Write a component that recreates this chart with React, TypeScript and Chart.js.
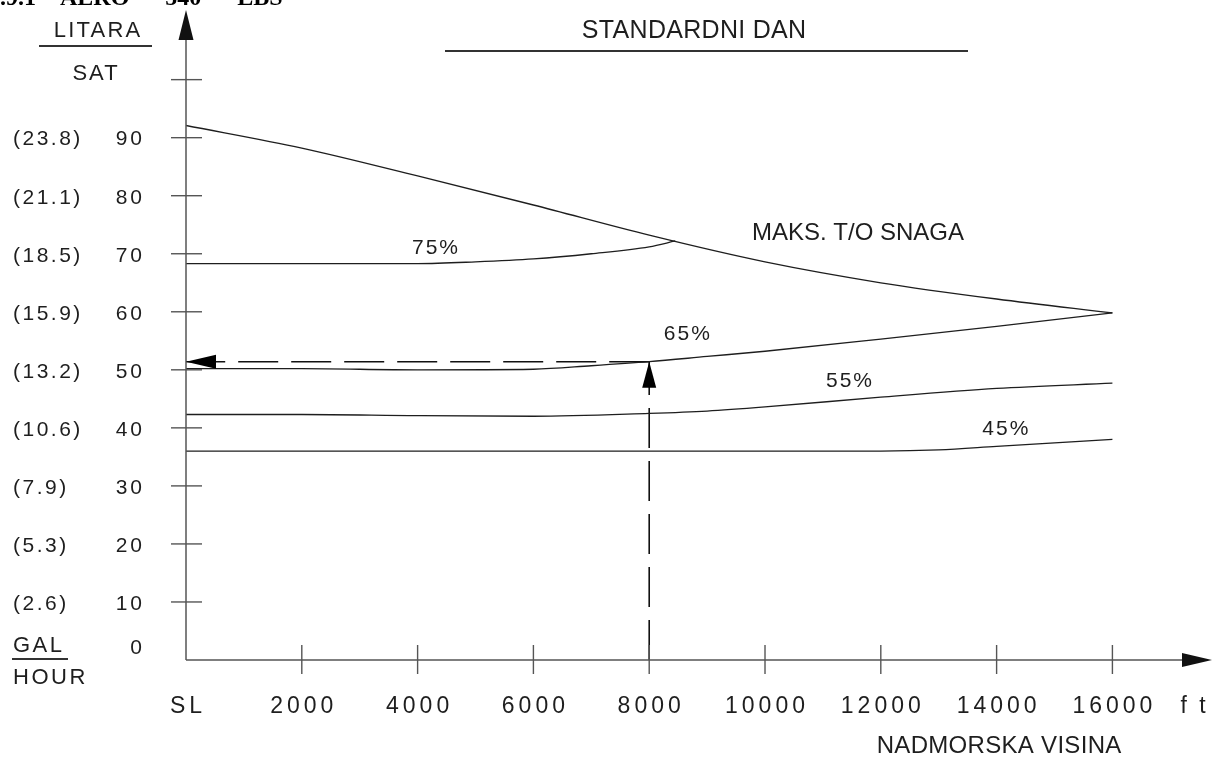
import React, { useEffect, useRef } from 'react';
import { Chart, registerables } from 'chart.js';

Chart.register(...registerables);

// ---- Data ----
const altitudeTicks = [0, 2000, 4000, 6000, 8000, 10000, 12000, 14000, 16000];
const altitudeTickLabels = ['SL', '2000', '4000', '6000', '8000', '10000', '12000', '14000', '16000'];
const gphTicks = [0, 10, 20, 30, 40, 50, 60, 70, 80, 90, 100];
const gphTickLabels = ['0', '10', '20', '30', '40', '50', '60', '70', '80', '90', ''];
const lphTickLabels = ['', '(2.6)', '(5.3)', '(7.9)', '(10.6)', '(13.2)', '(15.9)', '(18.5)', '(21.1)', '(23.8)', ''];

const maxAlt = [0, 2000, 4000, 6000, 8000, 10000, 12000, 14000, 16000];
const maxFlow = [92.1, 88.2, 83.4, 78.4, 73.2, 68.6, 65.0, 62.2, 59.8];

const p75Alt = [0, 2000, 4000, 5000, 6000, 7000, 8000, 8450];
const p75Flow = [68.3, 68.3, 68.3, 68.6, 69.1, 70.0, 71.2, 72.2];

const p65Alt = [0, 2000, 4000, 6000, 7000, 8000, 9000, 10000, 12000, 14000, 16000];
const p65Flow = [50.2, 50.2, 50.0, 50.1, 50.7, 51.4, 52.3, 53.2, 55.3, 57.5, 59.8];

const p55Alt = [0, 2000, 4000, 6000, 8000, 9000, 10000, 12000, 14000, 16000];
const p55Flow = [42.3, 42.3, 42.1, 42.0, 42.5, 42.9, 43.6, 45.3, 46.8, 47.7];

const p45Alt = [0, 4000, 8000, 12000, 13000, 14000, 15000, 16000];
const p45Flow = [36.0, 36.0, 36.0, 36.0, 36.2, 36.8, 37.4, 38.0];

const exampleAlt = 8000;
const exampleFlow = 51.4;

const curveLabels = [
  { text: '75%', alt: 4300, flow: 71.0 },
  { text: '65%', alt: 8650, flow: 56.2 },
  { text: '55%', alt: 11450, flow: 48.0 },
  { text: '45%', alt: 14150, flow: 39.8 },
];

const toPoints = (xs: number[], ys: number[]) => xs.map((x, i) => ({ x, y: ys[i] }));

const INK = '#1e1e1e';
const AXIS = '#555';
const FONT = "'Liberation Sans', Arial, sans-serif";

function text(ctx: CanvasRenderingContext2D, s: string, x: number, y: number, size: number, align: CanvasTextAlign, ls = 0) {
  ctx.save();
  ctx.font = `${size}px ${FONT}`;
  (ctx as any).letterSpacing = `${ls}px`;
  ctx.fillStyle = INK;
  ctx.textAlign = align;
  ctx.textBaseline = 'middle';
  let dx = 0;
  if (align === 'center') dx = ls / 2;
  if (align === 'right') dx = ls;
  ctx.fillText(s, x + dx, y);
  ctx.restore();
}

const decorPlugin = {
  id: 'decor',
  afterDraw(chart: any) {
    const ctx: CanvasRenderingContext2D = chart.ctx;
    const xs = chart.scales.x;
    const ys = chart.scales.y;
    const area = chart.chartArea;
    const x0 = xs.getPixelForValue(0);
    const y0 = ys.getPixelForValue(0);

    ctx.save();
    // axes
    ctx.strokeStyle = AXIS;
    ctx.lineWidth = 1.5;
    ctx.beginPath();
    ctx.moveTo(x0, y0);
    ctx.lineTo(x0, area.top + 20);
    ctx.moveTo(x0, y0);
    ctx.lineTo(area.right - 20, y0);
    ctx.stroke();
    ctx.fillStyle = '#111';
    ctx.beginPath();
    ctx.moveTo(x0, area.top);
    ctx.lineTo(x0 - 7.5, area.top + 30);
    ctx.lineTo(x0 + 7.5, area.top + 30);
    ctx.closePath();
    ctx.fill();
    ctx.beginPath();
    ctx.moveTo(area.right, y0);
    ctx.lineTo(area.right - 30, y0 - 7);
    ctx.lineTo(area.right - 30, y0 + 7);
    ctx.closePath();
    ctx.fill();

    // y ticks
    ctx.strokeStyle = AXIS;
    ctx.lineWidth = 1.4;
    gphTicks.forEach((v) => {
      if (v === 0) return;
      const py = ys.getPixelForValue(v);
      ctx.beginPath();
      ctx.moveTo(x0 - 15, py);
      ctx.lineTo(x0 + 16, py);
      ctx.stroke();
    });
    // x ticks
    altitudeTicks.forEach((v) => {
      if (v === 0) return;
      const px = xs.getPixelForValue(v);
      ctx.beginPath();
      ctx.moveTo(px, y0 - 15);
      ctx.lineTo(px, y0 + 14);
      ctx.stroke();
    });
    ctx.restore();

    // y labels
    gphTicks.forEach((v, i) => {
      const py = ys.getPixelForValue(v);
      const ly = v === 0 ? py - 12 : py + 2;
      if (gphTickLabels[i]) text(ctx, gphTickLabels[i], 142, ly, 21, 'right', 3);
      if (lphTickLabels[i]) text(ctx, lphTickLabels[i], 13, ly, 21, 'left', 2.5);
    });
    // x labels
    altitudeTicks.forEach((v, i) => {
      const px = xs.getPixelForValue(v);
      text(ctx, altitudeTickLabels[i], px, y0 + 47, 23, 'center', 4);
    });
    text(ctx, 'f t', 1193, y0 + 47, 23, 'center', 3);
    text(ctx, 'NADMORSKA VISINA', 999, 746, 24, 'center', 0.3);

    // left unit labels
    text(ctx, 'LITARA', 97, 31, 22, 'center', 2.2);
    text(ctx, 'SAT', 95, 74, 22, 'center', 2);
    text(ctx, 'GAL', 13, 646, 22, 'left', 2.5);
    text(ctx, 'HOUR', 13, 678, 22, 'left', 2.5);
    ctx.save();
    ctx.strokeStyle = '#333';
    ctx.lineWidth = 1.8;
    ctx.beginPath();
    ctx.moveTo(39, 46);
    ctx.lineTo(152, 46);
    ctx.moveTo(12, 659);
    ctx.lineTo(68, 659);
    ctx.stroke();
    // header underline
    ctx.lineWidth = 2;
    ctx.beginPath();
    ctx.moveTo(445, 51);
    ctx.lineTo(968, 51);
    ctx.stroke();
    ctx.restore();
    text(ctx, 'STANDARDNI DAN', 694, 31, 25, 'center', 0.3);

    // truncated page header (cut off at the top edge)
    ctx.save();
    ctx.font = `bold 24px 'Liberation Serif', serif`;
    ctx.fillStyle = '#000';
    ctx.textBaseline = 'alphabetic';
    ctx.fillText('5.9.1    AERO  –  540  –  LBS', -12, 5);
    ctx.restore();

    // curve labels
    curveLabels.forEach((c) => {
      text(ctx, c.text, xs.getPixelForValue(c.alt), ys.getPixelForValue(c.flow), 21, 'center', 2);
    });
    text(ctx, 'MAKS. T/O SNAGA', 752, 233, 24, 'left', 0);

    // example arrowheads
    const ex = xs.getPixelForValue(exampleAlt);
    const ey = ys.getPixelForValue(exampleFlow);
    ctx.save();
    ctx.fillStyle = '#000';
    ctx.beginPath();
    ctx.moveTo(ex, ey);
    ctx.lineTo(ex - 7, ey + 26);
    ctx.lineTo(ex + 7, ey + 26);
    ctx.closePath();
    ctx.fill();
    ctx.beginPath();
    ctx.moveTo(x0, ey);
    ctx.lineTo(x0 + 30, ey - 7);
    ctx.lineTo(x0 + 30, ey + 7);
    ctx.closePath();
    ctx.fill();
    ctx.restore();
  },
};

export default function App() {
  const ref = useRef<HTMLCanvasElement | null>(null);
  useEffect(() => {
    if (!ref.current) return;
    const curve = (data: { x: number; y: number }[]) => ({
      data,
      borderColor: INK,
      borderWidth: 1.3,
      pointRadius: 0,
      fill: false,
      cubicInterpolationMode: 'monotone' as const,
    });
    const dashed = (data: { x: number; y: number }[]) => ({
      data,
      borderColor: '#111',
      borderWidth: 1.6,
      borderDash: [40, 13],
      pointRadius: 0,
      fill: false,
    });
    const chart = new Chart(ref.current, {
      type: 'line',
      data: {
        datasets: [
          curve(toPoints(maxAlt, maxFlow)),
          curve(toPoints(p75Alt, p75Flow)),
          curve(toPoints(p65Alt, p65Flow)),
          curve(toPoints(p55Alt, p55Flow)),
          curve(toPoints(p45Alt, p45Flow)),
          dashed([{ x: exampleAlt, y: 0 }, { x: exampleAlt, y: exampleFlow }]),
          dashed([{ x: exampleAlt, y: exampleFlow }, { x: 0, y: exampleFlow }]),
        ] as any,
      },
      options: {
        animation: false,
        responsive: false,
        maintainAspectRatio: false,
        layout: { padding: { left: 186, right: 4, top: 10, bottom: 100 } },
        plugins: { legend: { display: false }, tooltip: { enabled: false } },
        scales: {
          x: { type: 'linear', min: 0, max: 17720, display: false },
          y: { type: 'linear', min: 0, max: 112, display: false },
        },
      } as any,
      plugins: [decorPlugin],
    });
    return () => chart.destroy();
  }, []);
  return (
    <div style={{ position: 'absolute', left: 0, top: 0, width: 1216, height: 760, background: '#fff' }}>
      <canvas ref={ref} width={1216} height={760} style={{ display: 'block' }} />
    </div>
  );
}
